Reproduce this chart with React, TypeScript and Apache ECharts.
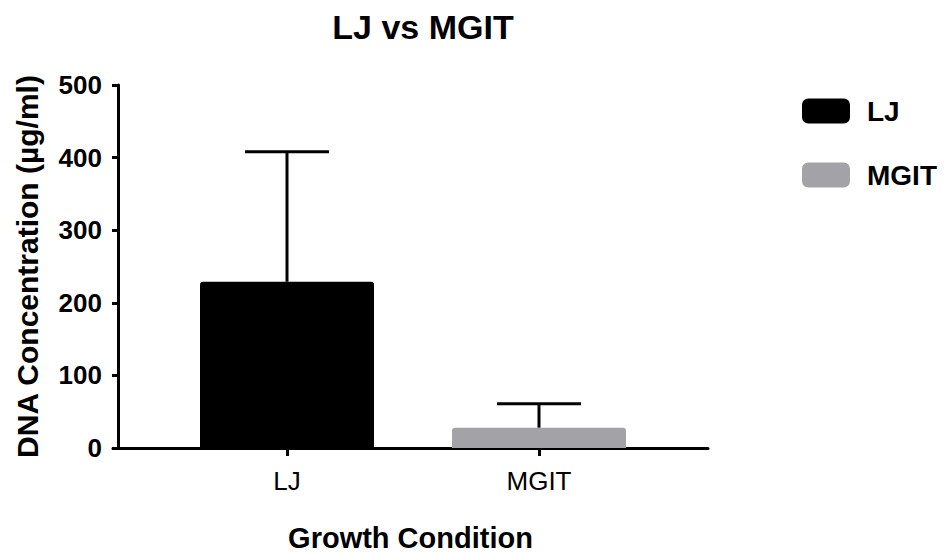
import React, { useEffect, useRef } from "react";
import * as echarts from "echarts";

const categories = ["LJ", "MGIT"];
const seriesNames = ["LJ", "MGIT"];
const means = [229, 28];
const errors = [179, 33];
const colors = ["#000000", "#a3a2a6"];
const yTicks = { min: 0, max: 500, interval: 100 };

const FONT = "'Liberation Sans', Arial, sans-serif";

export default function App() {
  const ref = useRef<HTMLDivElement>(null);
  useEffect(() => {
    if (!ref.current) return;
    const chart = echarts.init(ref.current, null, { renderer: "svg" });
    const barSeries = seriesNames.map((name, i) => ({
      name,
      type: "bar",
      xAxisIndex: 1,
      yAxisIndex: 1,
      barWidth: 174,
      barGap: "-100%",
      itemStyle: { color: colors[i], borderRadius: [3, 3, 0, 0] },
      data: categories.map((_, j) => (j === i ? means[j] : null)),
      z: 2,
    }));
    const option: any = {
      animation: false,
      textStyle: { fontFamily: FONT },
      title: {
        text: "LJ vs MGIT",
        left: 418,
        top: 5,
        textAlign: "center",
        textStyle: { fontFamily: FONT, fontWeight: "bold", fontSize: 34, color: "#000" },
      },
      legend: {
        orient: "vertical",
        left: 797,
        top: 92,
        itemWidth: 48,
        itemHeight: 25,
        itemGap: 36,
        icon: "roundRect",
        data: seriesNames,
        textStyle: {
          fontFamily: FONT,
          fontWeight: "bold",
          fontSize: 28,
          color: "#000",
          padding: [0, 0, 0, 12],
        },
      },
      grid: [
        { left: 113, right: 238, top: 85, bottom: 105, containLabel: false, outerBoundsMode: "none" },
        { left: 161, width: 504, top: 85, bottom: 105, containLabel: false, outerBoundsMode: "none" },
      ],
      xAxis: [
        {
          type: "category",
          gridIndex: 0,
          data: categories,
          axisLine: { lineStyle: { color: "#000", width: 3 } },
          axisTick: { show: false },
          axisLabel: { show: false },
          name: "Growth Condition",
          nameLocation: "middle",
          nameGap: 75,
          nameTextStyle: { fontFamily: FONT, fontWeight: "bold", fontSize: 29, color: "#000" },
        },
        {
          type: "category",
          gridIndex: 1,
          data: categories,
          axisLine: { show: false },
          axisTick: { show: true, alignWithLabel: true, length: 8, lineStyle: { color: "#000", width: 3 } },
          axisLabel: { fontFamily: FONT, fontSize: 26, color: "#000", margin: 20 },
        },
      ],
      yAxis: [
        {
          type: "value",
          gridIndex: 0,
          min: yTicks.min,
          max: yTicks.max,
          interval: yTicks.interval,
          offset: -5,
          splitLine: { show: false },
          axisLine: { show: true, lineStyle: { color: "#000", width: 3 } },
          axisTick: { show: true, length: 6, lineStyle: { color: "#000", width: 3 } },
          axisLabel: { fontFamily: FONT, fontWeight: "bold", fontSize: 26, color: "#000", margin: 16 },
          name: "DNA Concentration (µg/ml)",
          nameLocation: "middle",
          nameRotate: 90,
          nameGap: 76,
          nameTextStyle: { fontFamily: FONT, fontWeight: "bold", fontSize: 30, color: "#000" },
        },
        {
          type: "value",
          gridIndex: 1,
          min: yTicks.min,
          max: yTicks.max,
          interval: yTicks.interval,
          show: false,
          splitLine: { show: false },
        },
      ],
      series: [
        ...barSeries,
        {
          type: "custom",
          xAxisIndex: 1,
          yAxisIndex: 1,
          z: 3,
          silent: true,
          data: categories.map((_, j) => [j, means[j], means[j] + errors[j]]),
          renderItem: (params: any, api: any) => {
            const x = api.value(0);
            const base = api.coord([x, api.value(1)]);
            const top = api.coord([x, api.value(2)]);
            const half = 42;
            const style = { stroke: "#000", lineWidth: 3 };
            return {
              type: "group",
              children: [
                { type: "line", shape: { x1: base[0], y1: base[1], x2: top[0], y2: top[1] }, style },
                { type: "line", shape: { x1: top[0] - half, y1: top[1], x2: top[0] + half, y2: top[1] }, style },
              ],
            };
          },
        },
      ],
    };
    chart.setOption(option);
    return () => chart.dispose();
  }, []);
  return <div ref={ref} style={{ width: 946, height: 553, position: "absolute", left: 0, top: 0 }} />;
}
